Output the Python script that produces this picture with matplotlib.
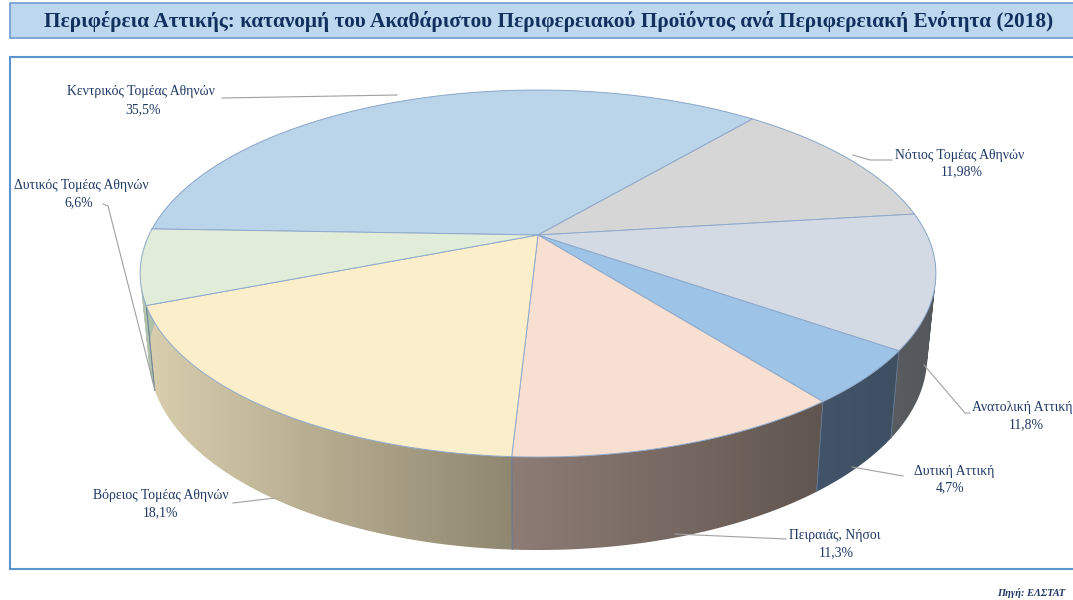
import numpy as np
import matplotlib
matplotlib.use('Agg')
import matplotlib.pyplot as plt
from matplotlib.patches import Polygon, Rectangle, PathPatch
from matplotlib.path import Path

plt.rcParams['font.family'] = ['Liberation Serif', 'DejaVu Serif']

labels = ['Κεντρικός Τομέας Αθηνών', 'Νότιος Τομέας Αθηνών', 'Ανατολική Αττική', 'Δυτική Αττική',
          'Πειραιάς, Νήσοι', 'Βόρειος Τομέας Αθηνών', 'Δυτικός Τομέας Αθηνών']
values = [35.5, 11.98, 11.8, 4.7, 11.3, 18.1, 6.6]
value_labels = ['35,5%', '11,98%', '11,8%', '4,7%', '11,3%', '18,1%', '6,6%']

top_colors = ['#BAD4EA', '#D6D6D6', '#D3DAE4', '#9DC3E6', '#F7E0D2', '#FBEECB', '#E2EDD9']
wall_left = ['#8A98A8', '#8F8F8F', '#5A5D60', '#42546A', '#8E7C76', '#D9CFAE', '#B4C6B0']
wall_right = ['#8A98A8', '#8F8F8F', '#53565A', '#3E4F62', '#60564F', '#8F8770', '#A8BCA6']

# where the text sits and where the leader goes, in pixels
label_pos = [(141, 92), (960, 155), (1022, 408), (954, 471), (835, 535), (161, 496), (81, 186)]
value_pos = [(143, 110), (962, 172), (1026, 425), (950, 488), (836, 553), (161, 513), (79, 203)]
leaders = [[(222, 98), (397, 95)],
           [(853, 155), (870, 160), (892, 160)],
           [(924, 365), (965, 413), (970, 413)],
           [(852, 467), (903, 476)],
           [(675, 534), (786, 539)],
           [(233, 503), (275, 498)],
           [(103, 204), (108, 206), (155, 390)]]

# perspective of the pie disc
CX, CY = 538, 235
A, B, K = 389.0, 175.4, 0.21
START = 178.0


def top_edge(deg):
    t = np.radians(deg)
    d = 1 + K * np.sin(t)
    return CX + A * np.cos(t) / d, CY - B * np.sin(t) / d


def bottom_edge(deg):
    x, y = top_edge(deg)
    return CX + 0.978 * (x - CX), y + 93 + 0.0526 * (y - 457)


def wall_path(xt, yt, xb, yb):
    # narrow quads, all wound the same way so they fill as one shape
    verts, codes = [], []
    for j in range(len(xt) - 1):
        q = np.array([(xt[j], yt[j]), (xt[j + 1], yt[j + 1]), (xb[j + 1], yb[j + 1]), (xb[j], yb[j])])
        area = np.sum(q[:, 0] * np.roll(q[:, 1], -1) - np.roll(q[:, 0], -1) * q[:, 1])
        if area < 0:
            q = q[::-1]
        verts += list(q) + [q[0]]
        codes += [Path.MOVETO, Path.LINETO, Path.LINETO, Path.LINETO, Path.CLOSEPOLY]
    return Path(np.array(verts), codes)


fig = plt.figure(figsize=(10.73, 6), dpi=100)
ax = fig.add_axes([0, 0, 1, 1])

# title and frame
ax.add_patch(Rectangle((10, 3), 1080, 35, facecolor='#BDD7EE', edgecolor='#6F9BD1', linewidth=1.2))
ax.add_patch(Rectangle((10, 57), 1080, 512, facecolor='white', edgecolor='#5B93CC', linewidth=1.5))
ax.text(548.5, 21, 'Περιφέρεια Αττικής: κατανομή του Ακαθάριστου Περιφερειακού Προϊόντος ανά Περιφερειακή Ενότητα (2018)',
        ha='center', va='center', fontsize=15.35, fontweight='bold', color='#12305E')

total = sum(values)
edges = START - np.cumsum([0] + values) / total * 360

for i in range(len(values)):
    th = np.linspace(edges[i], edges[i + 1], 200)
    xt, yt = top_edge(th)
    xb, yb = bottom_edge(th)
    wall = PathPatch(wall_path(xt, yt, xb, yb), facecolor='none', edgecolor='none', transform=ax.transData)
    ax.add_patch(wall)
    c0 = np.array(matplotlib.colors.to_rgb(wall_left[i]))
    c1 = np.array(matplotlib.colors.to_rgb(wall_right[i]))
    grad = np.linspace(0, 1, 256)[None, :, None]
    img = c0[None, None, :] + (c1 - c0)[None, None, :] * grad
    xs = np.r_[xt, xb]
    ys = np.r_[yt, yb]
    im = ax.imshow(img, extent=(xs.min(), xs.max(), ys.max(), ys.min()), aspect='auto', zorder=2,
                   interpolation='bilinear')
    im.set_clip_path(wall)
    # seams between wall pieces
    for d in (edges[i], edges[i + 1]):
        if -200 < d < -5:
            xa, ya = top_edge(d)
            xe, ye = bottom_edge(d)
            ax.plot([xa, xe], [ya, ye], color='#5F7592', lw=0.6, alpha=0.7, zorder=3)

for i in range(len(values)):
    th = np.linspace(edges[i], edges[i + 1], 200)
    xt, yt = top_edge(th)
    pts = np.c_[np.r_[CX, xt], np.r_[CY, yt]]
    ax.add_patch(Polygon(pts, closed=True, facecolor=top_colors[i], edgecolor='#8EA9CC', linewidth=0.7, zorder=4))

for i in range(len(labels)):
    pts = np.array(leaders[i])
    ax.plot(pts[:, 0], pts[:, 1], color='#A0A0A0', lw=0.8, zorder=5)
    ax.text(label_pos[i][0], label_pos[i][1], labels[i], ha='center', va='center', fontsize=9.9, color='#1F3864', zorder=6)
    ax.text(value_pos[i][0], value_pos[i][1], value_labels[i], ha='center', va='center', fontsize=9.9, color='#1F3864', zorder=6)

ax.text(1065, 593, 'Πηγή: ΕΛΣΤΑΤ', ha='right', va='center', fontsize=7.5, fontweight='bold', style='italic', color='#1F3864')

ax.set_xlim(0, 1073)
ax.set_ylim(600, 0)
ax.axis('off')
fig.savefig('out.png', dpi=100)
